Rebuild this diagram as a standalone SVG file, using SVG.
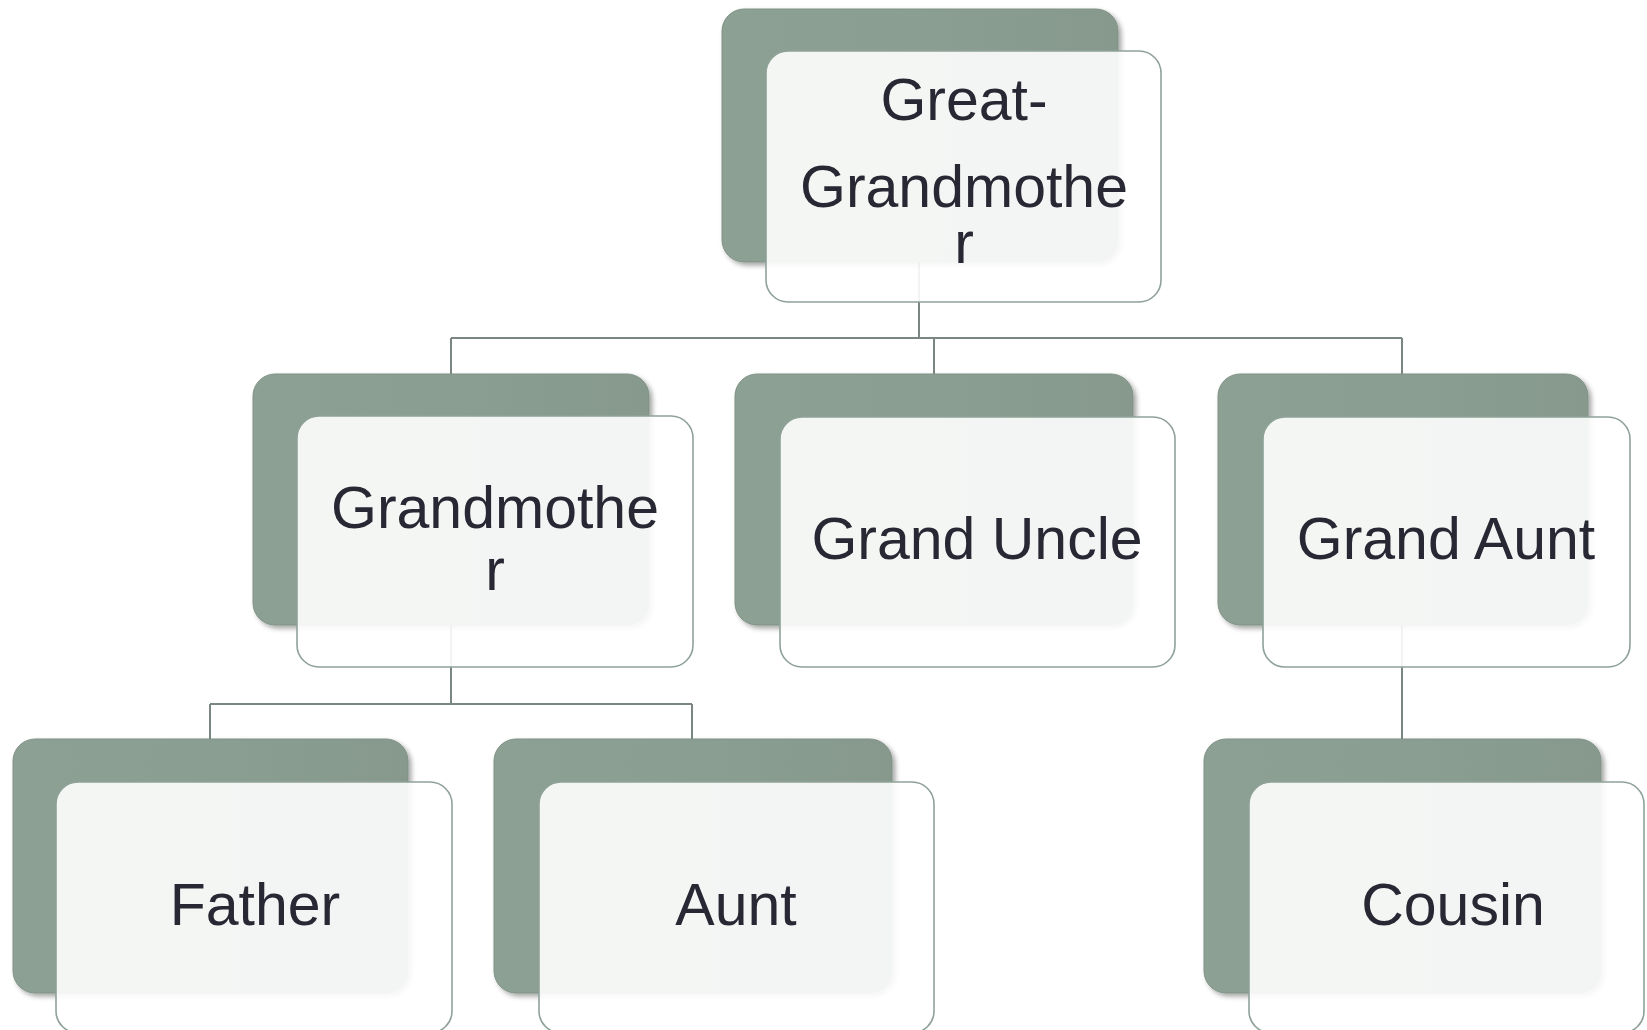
<svg xmlns="http://www.w3.org/2000/svg" width="1647" height="1030" viewBox="0 0 1647 1030">
  <defs>
    <linearGradient id="backGrad" x1="0" y1="0" x2="1" y2="0">
      <stop offset="0" stop-color="#8da094"/>
      <stop offset="0.5" stop-color="#8a9e91"/>
      <stop offset="1" stop-color="#87998d"/>
    </linearGradient>
    <filter id="shadow" x="-5%" y="-5%" width="115%" height="115%">
      <feDropShadow dx="3" dy="3" stdDeviation="2.5" flood-color="#000" flood-opacity="0.35"/>
    </filter>
    <style>
      .back { fill: url(#backGrad); stroke: #7f9185; stroke-width: 1; filter: url(#shadow); }
      .front { fill: #ffffff; fill-opacity: 0.9; stroke: #8fa298; stroke-width: 1.6; }
      .conn { fill: none; stroke: #7a8780; stroke-width: 2; }
      .label { font-family: "Liberation Sans", Arial, sans-serif; font-size: 59px; fill: #272833; text-anchor: middle; }
    </style>
  </defs>
  <rect width="1647" height="1030" fill="#ffffff"/>

  <g id="connectors">
    <path class="conn" d="M919 262 V338"/>
    <path class="conn" d="M451 338 H1402"/>
    <path class="conn" d="M451 338 V374"/>
    <path class="conn" d="M934 338 V374"/>
    <path class="conn" d="M1402 338 V374"/>
    <path class="conn" d="M451 625 V704"/>
    <path class="conn" d="M210 704 H692"/>
    <path class="conn" d="M210 704 V739"/>
    <path class="conn" d="M692 704 V739"/>
    <path class="conn" d="M1402 625 V739"/>
  </g>

  <g id="great-grandmother">
    <rect class="back" x="722" y="9" width="396" height="253" rx="22"/>
    <rect class="front" x="766" y="51" width="395" height="251" rx="22"/>
    <text class="label" x="964" y="120">Great-</text>
    <text class="label" x="964" y="207">Grandmothe</text>
    <text class="label" x="964" y="263">r</text>
  </g>

  <g id="grandmother">
    <rect class="back" x="253" y="374" width="396" height="251" rx="22"/>
    <rect class="front" x="297" y="416" width="396" height="251" rx="22"/>
    <text class="label" x="495" y="528">Grandmothe</text>
    <text class="label" x="495" y="590">r</text>
  </g>

  <g id="grand-uncle">
    <rect class="back" x="735" y="374" width="398" height="251" rx="22"/>
    <rect class="front" x="780" y="417" width="395" height="250" rx="22"/>
    <text class="label" x="977" y="559">Grand Uncle</text>
  </g>

  <g id="grand-aunt">
    <rect class="back" x="1218" y="374" width="370" height="251" rx="22"/>
    <rect class="front" x="1263" y="417" width="367" height="250" rx="22"/>
    <text class="label" x="1446" y="559">Grand Aunt</text>
  </g>

  <g id="father">
    <rect class="back" x="13" y="739" width="395" height="254" rx="22"/>
    <rect class="front" x="56" y="782" width="396" height="251" rx="22"/>
    <text class="label" x="255" y="925">Father</text>
  </g>

  <g id="aunt">
    <rect class="back" x="494" y="739" width="398" height="254" rx="22"/>
    <rect class="front" x="539" y="782" width="395" height="251" rx="22"/>
    <text class="label" x="736" y="925">Aunt</text>
  </g>

  <g id="cousin">
    <rect class="back" x="1204" y="739" width="397" height="254" rx="22"/>
    <rect class="front" x="1249" y="782" width="395" height="251" rx="22"/>
    <text class="label" x="1453" y="925">Cousin</text>
  </g>
</svg>
